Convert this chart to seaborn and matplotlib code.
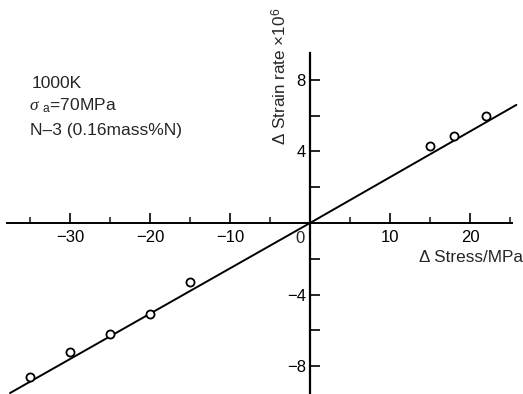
import matplotlib
matplotlib.use("Agg")
import matplotlib.pyplot as plt
import seaborn as sns
import pandas as pd

# Data
stress = [-35, -30, -25, -20, -15, 15, 18, 22]
strain_rate = [-8.6, -7.2, -6.2, -5.1, -3.3, 4.3, 4.85, 6.0]
fit_x = [-37.5, 0, 25.8]
fit_y = [-9.5, 0, 6.6]

x_major = [-30, -20, -10, 0, 10, 20]
x_major_labels = ["−30", "−20", "−10", "", "10", "20"]
x_minor = [-35, -25, -15, -5, 5, 15, 25]
y_ticks = [-8, -6, -4, -2, 2, 4, 6, 8]
y_labels = ["−8", "", "−4", "", "", "4", "", "8"]

sns.set_style("ticks")
plt.rcParams["font.family"] = ["Liberation Sans", "DejaVu Sans"]
plt.rcParams["mathtext.fontset"] = "custom"
plt.rcParams["mathtext.rm"] = "Liberation Sans"
plt.rcParams["mathtext.it"] = "Liberation Serif:italic"

FS = 12

fig = plt.figure(figsize=(5.23, 3.94), dpi=100)
ax = fig.add_axes([0, 0, 1, 1])
ax.patch.set_alpha(0)

pts = pd.DataFrame({"stress": stress, "rate": strain_rate})
fit = pd.DataFrame({"x": fit_x, "y": fit_y})

sns.lineplot(data=fit, x="x", y="y", ax=ax, color="black", linewidth=1.4,
             estimator=None, sort=False)
sns.scatterplot(data=pts, x="stress", y="rate", ax=ax, marker="o", s=34,
                facecolor="white", edgecolor="black", linewidth=1.3, zorder=3)

ax.set_xlim(-38.75, 26.625)
ax.set_ylim(-9.553, 12.458)

for s in ["top", "right"]:
    ax.spines[s].set_visible(False)
ax.spines["left"].set_position(("data", 0))
ax.spines["bottom"].set_position(("data", 0))
ax.spines["bottom"].set_bounds(-37.9, 25.3)
ax.spines["left"].set_bounds(-9.6, 9.5)
ax.spines["left"].set_linewidth(1.6)
ax.spines["bottom"].set_linewidth(1.4)
ax.spines["left"].set_color("black")
ax.spines["bottom"].set_color("black")

ax.set_xticks(x_major)
ax.set_xticklabels(x_major_labels)
ax.set_xticks(x_minor, minor=True)
ax.set_yticks(y_ticks)
ax.set_yticklabels(y_labels)

ax.tick_params(axis="x", which="major", direction="in", length=7, width=1.2,
               pad=5, labelsize=FS, colors="black")
ax.tick_params(axis="x", which="minor", direction="in", length=4, width=1.2)
ax.tick_params(axis="y", which="major", direction="in", length=7, width=1.2,
               pad=3, labelsize=FS, colors="black")

ax.set_xlabel("")
ax.set_ylabel("")

# "0" label left of the y axis
ax.annotate("0", xy=(0, 0), xytext=(-7.5, -6), textcoords="offset points",
            ha="center", va="top", fontsize=FS)

fig.text(523 / 523, 1 - 258 / 394, "Δ Stress/MPa", ha="right", va="center",
         fontsize=12.3)
fig.text(280 / 523, 1 - 76 / 394, r"Δ Strain rate ×10$^{6}$", ha="center",
         va="center", rotation=90, fontsize=12.3)

fig.text(32 / 523, 1 - 83 / 394, "1000K", ha="left", va="center", fontsize=12.5)
fig.text(29 / 523, 1 - 106 / 394, r"$\it{σ}$ $_{\rm a}$=70MPa", ha="left",
         va="center", fontsize=12.5)
fig.text(30 / 523, 1 - 130 / 394, "N–3 (0.16mass%N)", ha="left", va="center",
         fontsize=12.5)

fig.savefig("out.png", dpi=100)
